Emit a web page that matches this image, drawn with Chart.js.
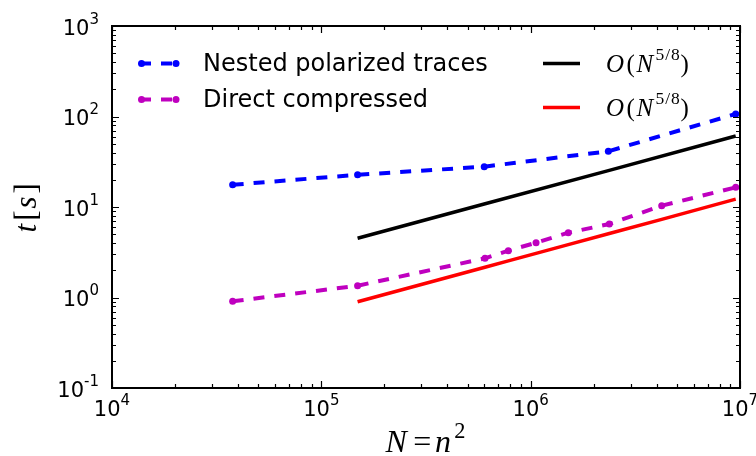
<!DOCTYPE html>
<html>
<head>
<meta charset="utf-8">
<script src="https://cdn.jsdelivr.net/npm/chart.js@4/dist/chart.umd.min.js"></script>
<style>
  html, body { margin: 0; padding: 0; background: #ffffff; }
  canvas { display: block; }
</style>
</head>
<body>
<canvas id="chart" width="756" height="456"></canvas>
<script>
// Problem sizes N = n^2 and run times t [s]
const nestedN = [37700, 149000, 600000, 2350000, 9540000];
const nestedT = [17.6, 22.7, 27.9, 41.3, 106.6];

const directN = [37700, 149000, 605000, 782000, 1061000, 1512000, 2375000, 4227000, 9540000];
const directT = [0.908, 1.35, 2.71, 3.29, 4.03, 5.20, 6.49, 10.34, 16.5];

// Reference slopes
const refBlackN = [149000, 600000, 2350000, 9540000];
const refBlackT = [4.51, 10.8, 25.2, 60.9];

const refRedN = [149000, 605000, 782000, 1061000, 1512000, 2375000, 4227000, 9540000];
const refRedT = [0.897, 2.16, 2.54, 3.07, 3.84, 5.09, 7.31, 12.2];

const seriesLabels = ['Nested polarized traces', 'Direct compressed', 'O(N^{5/8})', 'O(N^{5/8})'];

// Decade exponents used for the tick labels
const xTickExps = [4, 5, 6, 7];
const yTickExps = [-1, 0, 1, 2, 3];

const xTitle = 'N=n^{2}';
const yTitle = 't[s]';

const SANS = '"DejaVu Sans", "Liberation Sans", sans-serif';
const SERIF = '"Liberation Serif", "DejaVu Serif", serif';

function pts(xs, ys) {
  return xs.map((x, i) => ({ x: x, y: ys[i] }));
}

// Splits a small TeX-like string into glyph runs (letters italic, superscripts smaller)
function mathRuns(str) {
  const runs = [];
  let i = 0;
  while (i < str.length) {
    const c = str[i];
    if (c === '^') {
      let grp;
      if (str[i + 1] === '{') {
        const end = str.indexOf('}', i);
        grp = str.slice(i + 2, end);
        i = end + 1;
      } else {
        grp = str[i + 1];
        i += 2;
      }
      for (const g of grp) runs.push({ ch: g, sup: true });
    } else {
      runs.push({ ch: c, sup: false });
      i++;
    }
  }
  return runs;
}

function runFont(r, size) {
  const s = r.sup ? size * 0.7 : size;
  const italic = /[A-Za-z]/.test(r.ch);
  return (italic ? 'italic ' : '') + s.toFixed(1) + 'px ' + SERIF;
}

// extra advance after a glyph, in em of the run size
function runGap(r) {
  if (r.ch === '=') return 0.12;
  if (/[A-Za-z]/.test(r.ch)) return 0.1;
  if (r.ch === '(' || r.ch === '[') return 0.06;
  return 0.05;
}

function runPre(r) {
  return r.ch === '=' ? 0.1 : 0;
}

function measureMath(ctx, str, size) {
  let w = 0;
  for (const r of mathRuns(str)) {
    ctx.font = runFont(r, size);
    const s = r.sup ? size * 0.7 : size;
    w += (runPre(r) + runGap(r)) * s + ctx.measureText(r.ch).width;
  }
  return w;
}

function drawMath(ctx, str, x, y, size, align) {
  const w = measureMath(ctx, str, size);
  let cx = align === 'center' ? x - w / 2 : x;
  ctx.textAlign = 'left';
  ctx.textBaseline = 'alphabetic';
  for (const r of mathRuns(str)) {
    ctx.font = runFont(r, size);
    const s = r.sup ? size * 0.7 : size;
    cx += runPre(r) * s;
    const dy = r.sup ? -size * 0.45 : 0;
    ctx.fillText(r.ch, cx, y + dy);
    cx += ctx.measureText(r.ch).width + runGap(r) * s;
  }
}

// "10" with a raised exponent, as the decade tick labels
function sciWidth(ctx, exp) {
  ctx.font = '21px ' + SANS;
  const a = ctx.measureText('10').width;
  ctx.font = '15px ' + SANS;
  const b = ctx.measureText(String(exp)).width;
  return { a: a, b: b, w: a + b };
}

function drawSci(ctx, exp, x, baseline, align) {
  const m = sciWidth(ctx, exp);
  let left = x;
  if (align === 'center') left = x - m.w / 2;
  if (align === 'right') left = x - m.w;
  ctx.textAlign = 'left';
  ctx.textBaseline = 'alphabetic';
  ctx.font = '21px ' + SANS;
  ctx.fillText('10', left, baseline);
  ctx.font = '15px ' + SANS;
  ctx.fillText(String(exp), left + m.a, baseline - 11);
}

const axesPlugin = {
  id: 'axesFrame',
  afterDatasetsDraw(chart) {
    const ctx = chart.ctx;
    const area = chart.chartArea;
    const xs = chart.scales.x;
    const ys = chart.scales.y;
    ctx.save();
    ctx.fillStyle = '#000';
    ctx.strokeStyle = '#000';

    // tick marks on all four sides, pointing inward
    ctx.lineWidth = 1.2;
    const tick = (px, major, horizontal) => {
      const len = major ? 7 : 4;
      ctx.beginPath();
      if (horizontal) {
        ctx.moveTo(px, area.bottom); ctx.lineTo(px, area.bottom - len);
        ctx.moveTo(px, area.top); ctx.lineTo(px, area.top + len);
      } else {
        ctx.moveTo(area.left, px); ctx.lineTo(area.left + len, px);
        ctx.moveTo(area.right, px); ctx.lineTo(area.right - len, px);
      }
      ctx.stroke();
    };
    for (let e = xTickExps[0]; e <= xTickExps[xTickExps.length - 1]; e++) {
      tick(Math.round(xs.getPixelForValue(Math.pow(10, e))) + 0.5, true, true);
      if (e < xTickExps[xTickExps.length - 1]) {
        for (let k = 2; k <= 9; k++) tick(Math.round(xs.getPixelForValue(k * Math.pow(10, e))) + 0.5, false, true);
      }
    }
    for (let e = yTickExps[0]; e <= yTickExps[yTickExps.length - 1]; e++) {
      tick(Math.round(ys.getPixelForValue(Math.pow(10, e))) + 0.5, true, false);
      if (e < yTickExps[yTickExps.length - 1]) {
        for (let k = 2; k <= 9; k++) tick(Math.round(ys.getPixelForValue(k * Math.pow(10, e))) + 0.5, false, false);
      }
    }

    // frame
    ctx.lineWidth = 2;
    ctx.strokeRect(area.left, area.top, area.right - area.left, area.bottom - area.top);

    // tick labels
    for (const e of xTickExps) {
      drawSci(ctx, e, xs.getPixelForValue(Math.pow(10, e)), area.bottom + 28, 'center');
    }
    for (const e of yTickExps) {
      drawSci(ctx, e, area.left - 13, ys.getPixelForValue(Math.pow(10, e)) + 8.5, 'right');
    }

    // axis titles
    drawMath(ctx, xTitle, (area.left + area.right) / 2, 452, 32, 'center');
    ctx.save();
    ctx.translate(36, (area.top + area.bottom) / 2);
    ctx.rotate(-Math.PI / 2);
    drawMath(ctx, yTitle, 0, 0, 31, 'center');
    ctx.restore();

    // legend: two columns, no frame
    const entries = [
      { ds: 0, x: 140, y: 63.5, math: false },
      { ds: 1, x: 140, y: 99.5, math: false },
      { ds: 2, x: 543, y: 63.5, math: true },
      { ds: 3, x: 543, y: 107.5, math: true }
    ];
    for (const en of entries) {
      const ds = chart.data.datasets[en.ds];
      ctx.save();
      ctx.strokeStyle = ds.borderColor;
      ctx.lineWidth = ds.borderWidth;
      ctx.setLineDash(ds.borderDash || []);
      ctx.beginPath();
      ctx.moveTo(en.x, en.y);
      ctx.lineTo(en.x + 37, en.y);
      ctx.stroke();
      ctx.setLineDash([]);
      if (ds.pointRadius > 0) {
        ctx.fillStyle = ds.borderColor;
        for (const px of [en.x + 1.5, en.x + 36]) {
          ctx.beginPath();
          ctx.arc(px, en.y, ds.pointRadius, 0, Math.PI * 2);
          ctx.fill();
        }
      }
      ctx.restore();
      ctx.fillStyle = '#000';
      if (en.math) {
        drawMath(ctx, ds.label, 606, en.y + 8, 25, 'left');
      } else {
        ctx.font = '24px ' + SANS;
        ctx.textAlign = 'left';
        ctx.textBaseline = 'middle';
        ctx.fillText(ds.label, 203, en.y + 1);
      }
    }
    ctx.restore();
  }
};

const dashed = [11, 10];

new Chart(document.getElementById('chart'), {
  type: 'line',
  data: {
    datasets: [
      {
        label: seriesLabels[0],
        data: pts(nestedN, nestedT),
        borderColor: '#0000ff',
        backgroundColor: '#0000ff',
        borderWidth: 4,
        borderDash: dashed,
        pointRadius: 3.5,
        pointBorderWidth: 0,
        pointBackgroundColor: '#0000ff',
        tension: 0
      },
      {
        label: seriesLabels[1],
        data: pts(directN, directT),
        borderColor: '#bf00bf',
        backgroundColor: '#bf00bf',
        borderWidth: 4,
        borderDash: dashed,
        pointRadius: 3.5,
        pointBorderWidth: 0,
        pointBackgroundColor: '#bf00bf',
        tension: 0
      },
      {
        label: seriesLabels[2],
        data: pts(refBlackN, refBlackT),
        borderColor: '#000000',
        borderWidth: 3.5,
        pointRadius: 0,
        tension: 0
      },
      {
        label: seriesLabels[3],
        data: pts(refRedN, refRedT),
        borderColor: '#ff0000',
        borderWidth: 3.5,
        pointRadius: 0,
        tension: 0
      }
    ]
  },
  options: {
    responsive: false,
    animation: false,
    events: [],
    devicePixelRatio: 1,
    layout: { padding: { left: 112, right: 16, top: 26, bottom: 68 } },
    scales: {
      x: { type: 'logarithmic', min: 1e4, max: 1e7, display: false },
      y: { type: 'logarithmic', min: 0.1, max: 1000, display: false }
    },
    plugins: {
      legend: { display: false },
      tooltip: { enabled: false }
    }
  },
  plugins: [axesPlugin]
});
</script>
</body>
</html>
